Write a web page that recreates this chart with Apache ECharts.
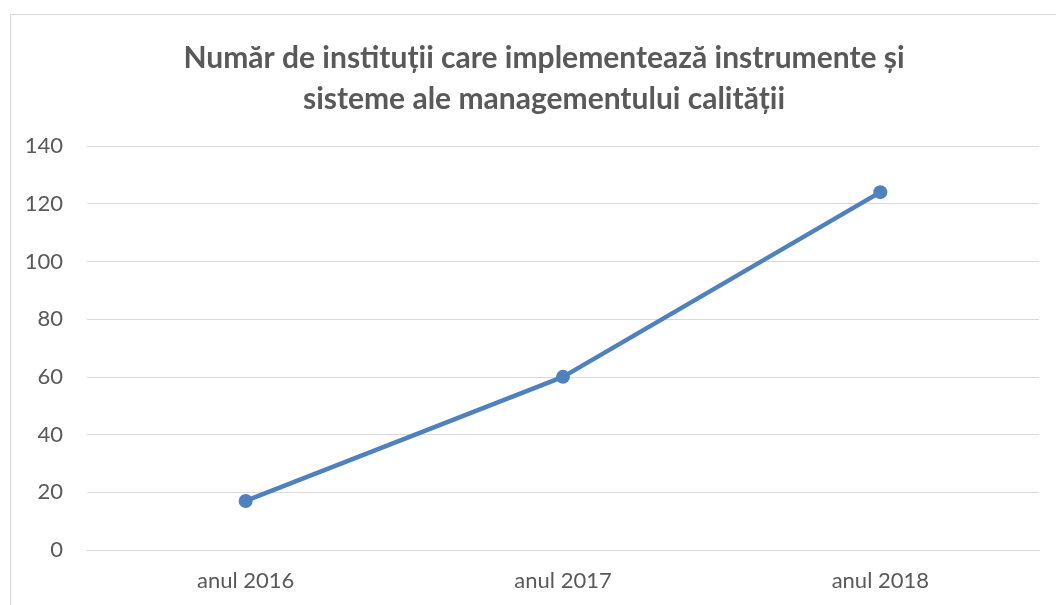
<!DOCTYPE html>
<html lang="ro">
<head>
  <meta charset="UTF-8">
  <title>Chart</title>
  <style>
    * { box-sizing: border-box; padding: 0; margin: 0; }
    html, body { width: 100%; height: 100%; background: #fff; overflow: hidden; }
    #frame {
      position: absolute; left: 10px; top: 14px; width: 1100px; height: 700px;
      border: 1px solid #d9d9d9;
    }
    #main { position: absolute; left: 0; top: 0; width: 1056px; height: 605px; }
  </style>
  <script src="https://cdn.jsdelivr.net/npm/echarts@6/dist/echarts.min.js"></script>
</head>
<body>
  <div id="frame"></div>
  <div id="main"></div>
  <script>
    var categories = ['anul 2016', 'anul 2017', 'anul 2018'];
    var values = [17, 60, 124];
    var titleText = 'Număr de instituții care implementează instrumente și\nsisteme ale managementului calității';

    var myChart = echarts.init(document.getElementById('main'));
    var option = {
      title: {
        text: titleText,
        left: 539,
        textAlign: 'center',
        top: 33,
        textStyle: {
          fontFamily: 'Lato',
          fontSize: 30,
          fontWeight: 'bold',
          color: '#595959',
          lineHeight: 41
        }
      },
      grid: { left: 87, right: 17, top: 146, bottom: 55 },
      xAxis: {
        type: 'category',
        data: categories,
        axisLine: { lineStyle: { color: '#d9d9d9', width: 1 } },
        axisTick: { show: false },
        axisLabel: { color: '#595959', fontSize: 22, fontFamily: 'Lato', margin: 20 }
      },
      yAxis: {
        type: 'value',
        min: 0, max: 140, interval: 20,
        axisLine: { show: false },
        axisTick: { show: false },
        splitLine: { lineStyle: { color: '#d9d9d9', width: 1 } },
        axisLabel: { color: '#595959', fontSize: 22, fontFamily: 'Lato', margin: 24 }
      },
      series: [{
        type: 'line',
        data: values,
        symbol: 'circle',
        symbolSize: 14,
        lineStyle: { color: '#4f81bd', width: 4.5 },
        itemStyle: { color: '#4f81bd' },
        animation: false
      }]
    };
    myChart.setOption(option);
    window.onresize = myChart.resize;
  </script>
</body>
</html>
